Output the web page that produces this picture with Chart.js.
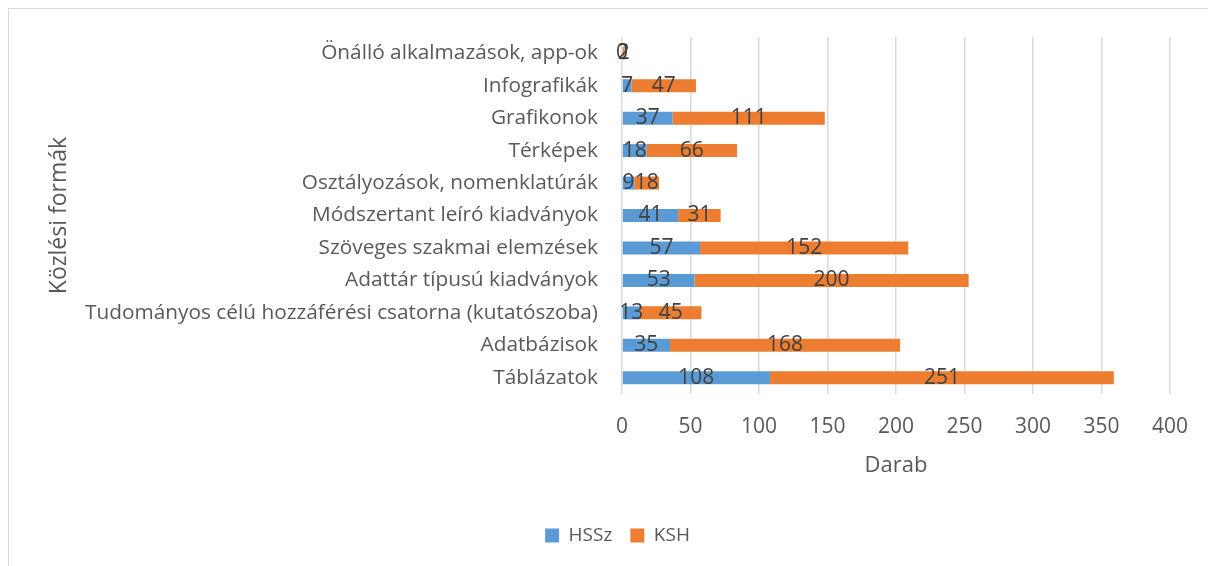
<!DOCTYPE html>
<html>
<head>
<meta charset="utf-8">
<script src="https://cdn.jsdelivr.net/npm/chart.js@4/dist/chart.umd.min.js"></script>
<style>
  html, body { margin: 0; padding: 0; background: #fff; overflow: hidden; }
  #frame {
    position: absolute; left: 8px; top: 8px;
    width: 1217px; height: 560px;
    border-left: 1px solid #D9D9D9; border-top: 1px solid #D9D9D9;
  }
</style>
</head>
<body>
<div id="frame"><canvas id="chart" width="1217" height="557"></canvas></div>
<script>
// categories, top to bottom
var kategoriak = [
  'Önálló alkalmazások, app-ok',
  'Infografikák',
  'Grafikonok',
  'Térképek',
  'Osztályozások, nomenklatúrák',
  'Módszertant leíró kiadványok',
  'Szöveges szakmai elemzések',
  'Adattár típusú kiadványok',
  'Tudományos célú hozzáférési csatorna (kutatószoba)',
  'Adatbázisok',
  'Táblázatok'
];
var hssz = [0, 7, 37, 18, 9, 41, 57, 53, 13, 35, 108];
var ksh  = [2, 47, 111, 66, 18, 31, 152, 200, 45, 168, 251];
var xTicks = [0, 50, 100, 150, 200, 250, 300, 350, 400];

var betu = '"Open Sans", sans-serif';

// value labels in the middle of each segment
var ertekCimkek = {
  id: 'ertekCimkek',
  afterDatasetsDraw: function (chart) {
    var ctx = chart.ctx;
    ctx.save();
    ctx.font = '21px ' + betu;
    ctx.fillStyle = '#404040';
    ctx.textAlign = 'center';
    ctx.textBaseline = 'middle';
    chart.data.datasets.forEach(function (ds, i) {
      var meta = chart.getDatasetMeta(i);
      meta.data.forEach(function (bar, j) {
        var p = bar.getCenterPoint();
        ctx.fillText(String(ds.data[j]), p.x, p.y);
      });
    });
    ctx.restore();
  }
};

var ctx = document.getElementById('chart').getContext('2d');
var myChart = new Chart(ctx, {
  type: 'bar',
  data: {
    labels: kategoriak,
    datasets: [
      { label: 'HSSz', data: hssz, backgroundColor: '#5B9BD5', categoryPercentage: 1, barPercentage: 0.4 },
      { label: 'KSH', data: ksh, backgroundColor: '#ED7D31', categoryPercentage: 1, barPercentage: 0.4 }
    ]
  },
  options: {
    indexAxis: 'y',
    responsive: false,
    animation: false,
    // left padding keeps the legend centred on the whole frame
    layout: { padding: { top: 28, right: 56, bottom: 11, left: 56 } },
    plugins: {
      legend: {
        position: 'bottom',
        labels: {
          boxWidth: 14, boxHeight: 14, padding: 18,
          color: '#595959',
          font: { family: betu, size: 19 }
        }
      },
      tooltip: { enabled: false }
    },
    scales: {
      x: {
        stacked: true,
        min: 0, max: 400,
        afterBuildTicks: function (s) { s.ticks = xTicks.map(function (v) { return { value: v }; }); },
        afterFit: function (s) { s.height = 114; },
        grid: { color: '#D9D9D9', lineWidth: 1.5, drawTicks: false },
        border: { display: false },
        ticks: { padding: 20, color: '#595959', font: { family: betu, size: 21 } },
        title: {
          display: true, text: 'Darab', color: '#595959',
          font: { family: betu, size: 22 },
          padding: { top: 0, bottom: 29 }
        }
      },
      y: {
        stacked: true,
        afterFit: function (s) { s.width = 557; },
        grid: { display: false, tickLength: 24 },
        border: { display: false },
        ticks: { padding: 0, color: '#595959', font: { family: betu, size: 20.8 }, autoSkip: false },
        title: {
          display: true, text: 'Közlési formák', color: '#595959',
          font: { family: betu, size: 23 },
          padding: { top: -19, bottom: 0 }
        }
      }
    }
  },
  plugins: [ertekCimkek]
});
</script>
</body>
</html>
